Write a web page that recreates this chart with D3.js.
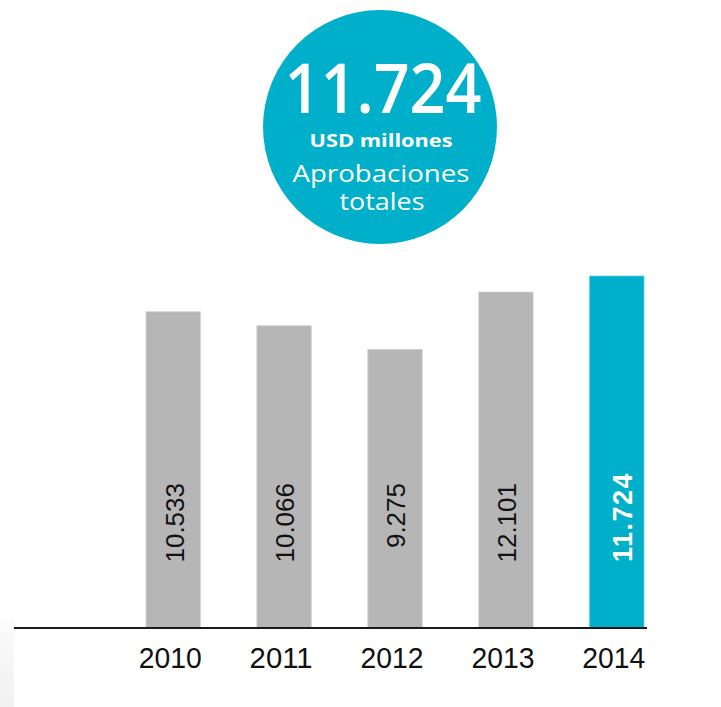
<!DOCTYPE html>
<html>
<head>
<meta charset="utf-8">
<script src="https://cdn.jsdelivr.net/npm/d3@7/dist/d3.min.js"></script>
<style>
  html, body { margin: 0; padding: 0; background: #ffffff; }
  svg { display: block; }
</style>
</head>
<body>
<div id="chart"></div>
<script>
// ---- data ----
const years = ["2010", "2011", "2012", "2013", "2014"];
const values = [10533, 10066, 9275, 12101, 11724];           // printed labels (USD millones)
const valueLabels = ["10.533", "10.066", "9.275", "12.101", "11.724"];
const drawnLevels = [10533, 10066, 9275, 11190, 11724];      // bar heights as drawn in the picture
const highlightYear = "2014";
const headline = "11.724";
const headlineUnit = "USD millones";
const headlineText = ["Aprobaciones", "totales"];

// ---- layout ----
const W = 721, H = 707;
const teal = "#00afca";
const gray = "#b6b6b6";
const baseY = 628;

const svg = d3.select("#chart").append("svg")
  .attr("width", W).attr("height", H);

// faint strip at bottom-left
const defs = svg.append("defs");
const grad = defs.append("linearGradient").attr("id", "strip").attr("x1", 0).attr("x2", 0).attr("y1", 0).attr("y2", 1);
grad.append("stop").attr("offset", "0%").attr("stop-color", "#fbfbfb");
grad.append("stop").attr("offset", "100%").attr("stop-color", "#f1f1f1");
svg.append("rect").attr("x", 0).attr("y", 620).attr("width", 14).attr("height", H - 620).attr("fill", "url(#strip)");

const x = d3.scaleBand().domain(years).range([146, 644]).paddingInner(0.51).paddingOuter(0);
const y = d3.scaleLinear().domain([0, 11724]).range([baseY, 276]);

const rows = years.map((yr, i) => ({ year: yr, value: values[i], label: valueLabels[i], level: drawnLevels[i] }));

// bars
svg.append("g").selectAll("rect").data(rows).join("rect")
  .attr("x", d => x(d.year))
  .attr("y", d => y(d.level))
  .attr("width", x.bandwidth())
  .attr("height", d => y(0) - y(d.level))
  .attr("fill", d => d.year === highlightYear ? teal : gray)
  .attr("stroke", d => d.year === highlightYear ? "#5fcfe0" : "#cfcfcf")
  .attr("stroke-width", 0.8);

// value labels (rotated)
svg.append("g").selectAll("text").data(rows).join("text")
  .attr("transform", d => {
    const cx = x(d.year) + x.bandwidth() / 2 + (d.year === highlightYear ? 5 : 1);
    const cy = d.year === highlightYear ? 517 : 483;
    return `translate(${cx},${cy}) rotate(-90)`;
  })
  .attr("text-anchor", d => d.year === highlightYear ? "middle" : "end")
  .attr("dy", "0.36em")
  .attr("font-family", "Liberation Sans, Arial, sans-serif")
  .attr("font-size", d => d.year === highlightYear ? 27 : 26)
  .attr("font-weight", d => d.year === highlightYear ? "bold" : "normal")
  .attr("letter-spacing", d => d.year === highlightYear ? 1.5 : 0)
  .attr("fill", d => d.year === highlightYear ? "#ffffff" : "#111111")
  .text(d => d.label);

// baseline
svg.append("line")
  .attr("x1", 14).attr("x2", x.range()[1] + 3)
  .attr("y1", baseY).attr("y2", baseY)
  .attr("stroke", "#1a1a1a").attr("stroke-width", 2.2);

// x axis labels
const axis = d3.axisBottom(x).tickSize(0).tickPadding(0);
const gx = svg.append("g").attr("transform", `translate(-3,${baseY})`).call(axis);
gx.select(".domain").remove();
gx.selectAll("text")
  .attr("y", 40)
  .attr("dy", 0)
  .attr("font-family", "Liberation Sans, Arial, sans-serif")
  .attr("font-size", 29)
  .attr("textLength", 63).attr("lengthAdjust", "spacingAndGlyphs")
  .attr("fill", "#111111");

// headline circle
const cx = 380, cy = 127, r = 117;
svg.append("circle").attr("cx", cx).attr("cy", cy).attr("r", r).attr("fill", teal);

const tx = 383;
svg.append("text")
  .attr("x", tx).attr("y", 113)
  .attr("text-anchor", "middle")
  .attr("font-family", "Open Sans, Noto Sans, sans-serif")
  .attr("font-size", 68)
  .attr("font-weight", 600)
  .attr("textLength", 197).attr("lengthAdjust", "spacingAndGlyphs")
  .attr("fill", "#ffffff")
  .text(headline);

svg.append("text")
  .attr("x", tx - 2).attr("y", 147)
  .attr("text-anchor", "middle")
  .attr("font-family", "Open Sans, Noto Sans, sans-serif")
  .attr("font-size", 18)
  .attr("font-weight", "bold")
  .attr("textLength", 143).attr("lengthAdjust", "spacingAndGlyphs")
  .attr("fill", "#ffffff")
  .text(headlineUnit);

svg.append("text")
  .attr("x", tx - 2).attr("y", 182)
  .attr("text-anchor", "middle")
  .attr("font-family", "Open Sans, Noto Sans, sans-serif")
  .attr("font-size", 24)
  .attr("font-weight", 400)
  .attr("textLength", 177).attr("lengthAdjust", "spacingAndGlyphs")
  .attr("fill", "#ffffff")
  .text(headlineText[0]);

svg.append("text")
  .attr("x", tx - 1).attr("y", 210)
  .attr("text-anchor", "middle")
  .attr("font-family", "Open Sans, Noto Sans, sans-serif")
  .attr("font-size", 24)
  .attr("font-weight", 400)
  .attr("textLength", 85).attr("lengthAdjust", "spacingAndGlyphs")
  .attr("fill", "#ffffff")
  .text(headlineText[1]);
</script>
</body>
</html>
